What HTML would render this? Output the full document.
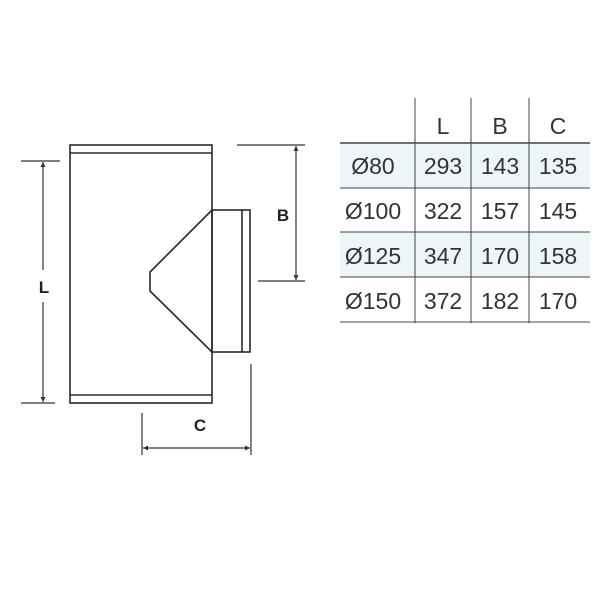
<!DOCTYPE html>
<html><head><style>
html,body{margin:0;padding:0;background:#fff;width:600px;height:600px;overflow:hidden}
svg{display:block}
</style></head><body>
<svg width="600" height="600" viewBox="0 0 600 600" xmlns="http://www.w3.org/2000/svg">
<defs>
<marker id="a" markerWidth="6" markerHeight="6" refX="5" refY="3" orient="auto-start-reverse" markerUnits="userSpaceOnUse">
<path d="M0,0.5 L5,3 L0,5.5 Z" fill="#333"/></marker>
</defs>
<rect x="340" y="143" width="250" height="45" fill="#eef5f9"/>
<rect x="340" y="232" width="250" height="45" fill="#eef5f9"/>
<g stroke="#2a2a2a" stroke-width="1.6" fill="none">
<rect x="70" y="145" width="142" height="258"/>
<line x1="70" y1="153" x2="212" y2="153"/>
<line x1="70" y1="395" x2="212" y2="395"/>
<rect x="212" y="210" width="38" height="142"/>
<line x1="242" y1="210" x2="242" y2="352"/>
<polyline points="212,210 150,272 150,291 212,352"/>
</g>
<g stroke="#333" stroke-width="1.2" fill="none">
<line x1="21" y1="161" x2="60" y2="161"/>
<line x1="21" y1="403" x2="55" y2="403"/>
<line x1="43" y1="162" x2="43" y2="270" marker-start="url(#a)"/>
<line x1="43" y1="302" x2="43" y2="402" marker-end="url(#a)"/>
<line x1="237" y1="145" x2="305" y2="145"/>
<line x1="258" y1="281" x2="305" y2="281"/>
<line x1="296" y1="146" x2="296" y2="280" marker-start="url(#a)" marker-end="url(#a)"/>
<line x1="142" y1="413" x2="142" y2="455"/>
<line x1="251" y1="364" x2="251" y2="455"/>
<line x1="143" y1="448" x2="250" y2="448" marker-start="url(#a)" marker-end="url(#a)"/>
</g>
<g font-family="Liberation Sans, sans-serif" font-weight="bold" font-size="17" fill="#222" text-anchor="middle">
<text x="44" y="293">L</text>
<text x="283" y="221">B</text>
<text x="200" y="431">C</text>
</g>
<g stroke="#444" stroke-width="1">
<line x1="415" y1="98" x2="415" y2="323"/>
<line x1="471" y1="98" x2="471" y2="323"/>
<line x1="529" y1="98" x2="529" y2="323"/>
<line x1="340" y1="143" x2="590" y2="143" stroke-width="1.6"/>
<line x1="340" y1="188" x2="590" y2="188"/>
<line x1="340" y1="232" x2="590" y2="232"/>
<line x1="340" y1="277" x2="590" y2="277"/>
<line x1="340" y1="322" x2="590" y2="322"/>
</g>
<g font-family="Liberation Sans, sans-serif" font-size="23" fill="#333" text-anchor="middle">
<text x="443" y="134">L</text><text x="500" y="134">B</text><text x="558" y="134">C</text>
<text x="373" y="174">Ø80</text><text x="443" y="174">293</text><text x="500" y="174">143</text><text x="558" y="174">135</text>
<text x="373" y="219">Ø100</text><text x="443" y="219">322</text><text x="500" y="219">157</text><text x="558" y="219">145</text>
<text x="373" y="264">Ø125</text><text x="443" y="264">347</text><text x="500" y="264">170</text><text x="558" y="264">158</text>
<text x="373" y="309">Ø150</text><text x="443" y="309">372</text><text x="500" y="309">182</text><text x="558" y="309">170</text>
</g>
</svg>
</body></html>
